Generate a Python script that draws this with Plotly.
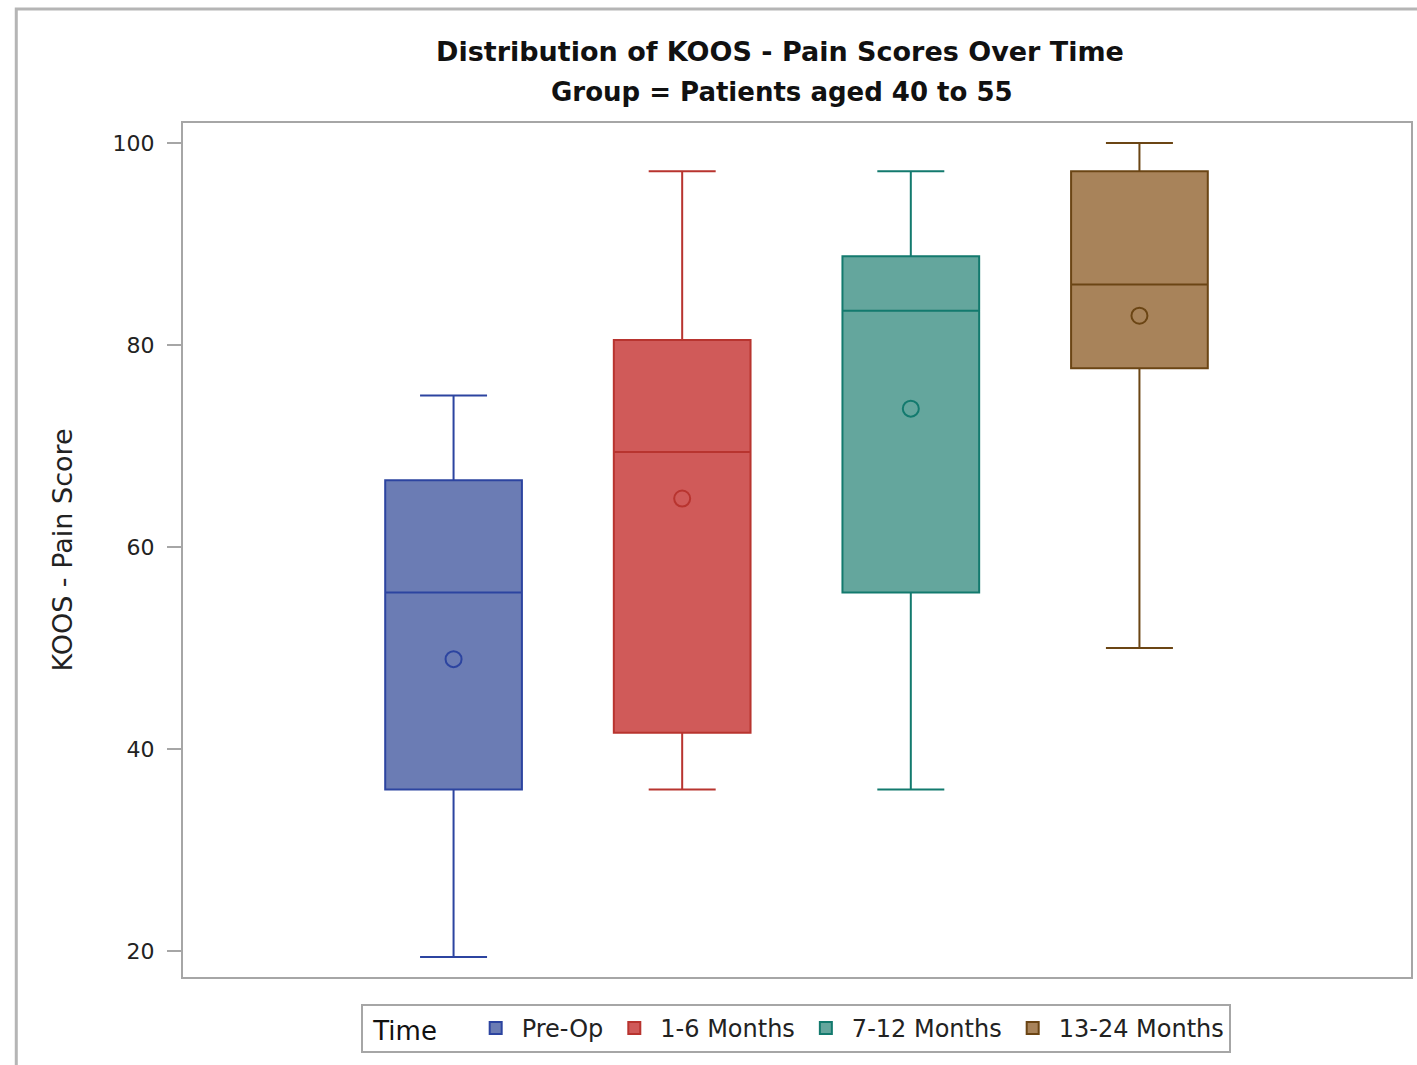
import plotly.graph_objects as go

categories = ["Pre-Op", "1-6 Months", "7-12 Months", "13-24 Months"]
lower_whisker = [19.4, 36.0, 36.0, 50.0]
q1_values = [36.0, 41.6, 55.5, 77.7]
median_values = [55.5, 69.4, 83.4, 86.0]
q3_values = [66.6, 80.5, 88.8, 97.2]
upper_whisker = [75.0, 97.2, 97.2, 100.0]
mean_values = [48.9, 64.8, 73.7, 82.9]
y_ticks = [20, 40, 60, 80, 100]

fill_colors = ["#6b7cb4", "#d05a59", "#64a69d", "#a8835a"]
line_colors = ["#2c44a0", "#b8342f", "#137a6e", "#6b4514"]

font_family = "DejaVu Sans, Verdana, sans-serif"
W, H = 1417, 1065
L, R, T, B = 183, 4, 123, 88
plot_h = H - T - B
plot_w = W - L - R

fig = go.Figure()
for i, cat in enumerate(categories):
    fig.add_trace(go.Box(
        name=cat,
        x=[i],
        q1=[q1_values[i]],
        median=[median_values[i]],
        q3=[q3_values[i]],
        lowerfence=[lower_whisker[i]],
        upperfence=[upper_whisker[i]],
        width=0.598,
        whiskerwidth=0.49,
        fillcolor=fill_colors[i],
        line=dict(color=line_colors[i], width=2),
        boxpoints=False,
        showlegend=True,
        hoverinfo="skip",
    ))
    fig.add_trace(go.Scatter(
        x=[i],
        y=[mean_values[i]],
        mode="markers",
        marker=dict(symbol="circle-open", size=16, color=line_colors[i],
                    line=dict(width=2, color=line_colors[i])),
        showlegend=False,
        hoverinfo="skip",
    ))

fig.update_layout(
    width=W,
    height=H,
    margin=dict(l=L, r=R, t=T, b=B),
    paper_bgcolor="white",
    plot_bgcolor="white",
    font=dict(family=font_family, color="#222222", size=20),
    title=dict(
        text="<b>Distribution of KOOS - Pain Scores Over Time</b>",
        x=780 / W, xanchor="center",
        y=1 - 52 / H, yanchor="middle",
        font=dict(size=27, color="#111111", family=font_family),
    ),
    annotations=[
        dict(text="<b>Group = Patients aged 40 to 55</b>",
             xref="paper", yref="paper",
             x=(783 - L) / plot_w, y=(H - B - 92) / plot_h,
             xanchor="center", yanchor="middle", showarrow=False,
             font=dict(size=26, color="#111111", family=font_family)),
    ],
    xaxis=dict(
        range=[-1.1834, 4.1878],
        showticklabels=False,
        ticks="",
        showgrid=False,
        zeroline=False,
        showline=True,
        linecolor="#a6a6a6",
        linewidth=2,
        mirror=True,
    ),
    yaxis=dict(
        range=[17.43, 101.98],
        tickvals=y_ticks,
        ticks="outside",
        ticklen=14,
        tickwidth=2,
        tickcolor="#a6a6a6",
        ticklabelstandoff=8,
        showgrid=False,
        zeroline=False,
        showline=True,
        linecolor="#a6a6a6",
        linewidth=2,
        mirror=True,
        tickfont=dict(size=22, color="#222222"),
        title=dict(text="KOOS - Pain Score", font=dict(size=27, color="#222222"), standoff=32),
    ),
    legend=dict(
        orientation="h",
        x=(797 - L) / plot_w, xanchor="center",
        y=-(1004 - (H - B)) / plot_h, yanchor="top",
        bordercolor="#a6a6a6",
        borderwidth=2,
        bgcolor="white",
        font=dict(size=24, color="#222222"),
        title=dict(text=" Time   ", side="left", font=dict(size=26, color="#111111")),
        itemwidth=42,
        tracegroupgap=0,
    ),
    shapes=[
        dict(type="rect", xref="paper", yref="paper",
             x0=(16 - L) / plot_w, x1=(W + 20 - L) / plot_w,
             y0=-(H + 20 - (H - B)) / plot_h, y1=(H - B - 9) / plot_h,
             line=dict(color="#b5b5b5", width=3), fillcolor="rgba(0,0,0,0)", layer="below"),
    ],
)

fig.write_html("out.html", config={"displayModeBar": False},
               post_script="document.body.style.margin='0px';document.body.style.overflow='hidden';")
